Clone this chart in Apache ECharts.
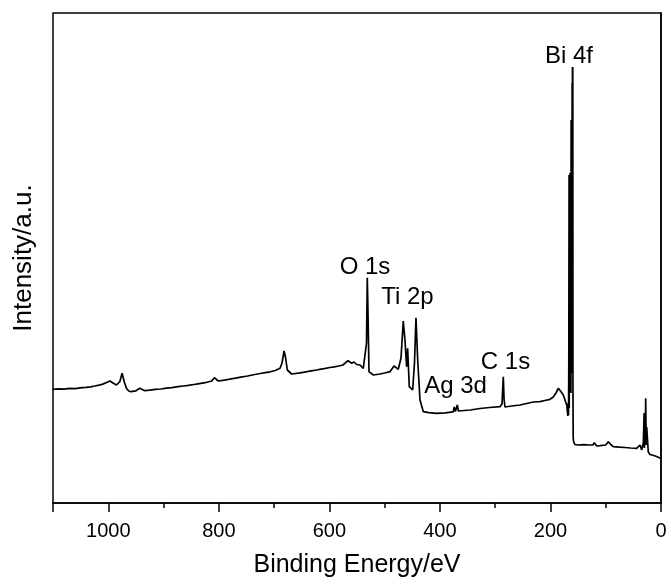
<!DOCTYPE html>
<html>
<head>
<meta charset="utf-8">
<script src="https://cdn.jsdelivr.net/npm/echarts@6/dist/echarts.min.js"></script>
<style>
html,body{margin:0;padding:0;background:#fff;}
#chart{width:671px;height:584px;}
</style>
</head>
<body>
<div id="chart"></div>
<script>
// Binding energy (eV) and intensity (a.u.)
var energy = [1100,1090,1080,1070,1060,1054,1047,1040,1032,1024,1017,1010,1003,997,990,985,979,975,971,967,963,959,950,943,934,925,915,905,895,885,874,864,855,845,835,825,813,808,801,790,780,770,760,748,735,725,716,707,698,689.3,685.7,682,679.4,676.1,668.2,660,653,645,638,630,623,615,607,599,591,583,575.4,566.3,559.6,555.4,550.5,544.6,538.6,535.6,532.8,531.4,530.1,528.3,520.5,508.4,500,490.3,483,475.3,470.4,466.3,463.2,460.2,458.4,455.4,449.3,446,443.3,440.2,436,430,420,405.8,390,380,376,374,372,368.5,366.5,363.7,345,327.5,310,291.3,287.7,285.3,284,282.3,270,255,243,231,219,210,200.8,194.9,190,185.8,181.8,176.8,173.7,170.6,169.5,168.5,167.8,167.3,166.8,166.3,166.0,165.7,165.4,165.1,164.8,164.5,164.2,163.9,163.6,163.3,163.0,162.6,162.3,162.0,161.7,161.4,161.1,160.8,160.5,160.2,159.9,159.6,159.3,158.9,158.3,157.5,156,150,140,130,123,120.7,116.3,110,100,95.3,90,86.3,75,65,55,44,38,35,32,30.5,30,29.3,28.5,27.7,26.8,25.9,23,20,16.8,13,10.9,8,4.9,2,0];
var intensity = [113.7,114.2,113.8,114.6,114.3,114.9,115.3,115.6,116.2,117,117.8,118.9,120.5,122,119.5,118,121.5,129.7,121,114.5,112,111.3,112.2,114.7,112.3,112.8,113.6,114,114.8,115.4,116.3,117,117.6,118.5,119.4,120.3,122,125.3,122,122.9,123.8,124.8,125.9,127,128.5,129.5,130.4,131.2,132.5,134.7,140,152,146,133,129,129.6,130.2,130.9,131.6,132.4,133,133.8,134.6,135.5,136.2,137,138,142.3,139.7,141,138.5,138,134.7,133,160,225.3,190,131.3,128,129,130,131.3,137,133.7,145,182,163,136.3,154.7,116.3,113,140,185.3,143,103,91.3,90.3,89.7,90.2,90.8,91,96,91.5,98,92,91.3,93,94.5,95.5,96.3,99,126.3,104,96,97,98,99.5,101,101.3,102.5,103.7,106,110,114.7,112,108,106,98,92,87,100,88,140,328,95,320,110,326,150,330,120,325,160,320,110,383,130,380,150,383,200,420,250,436,300,436,120,66,62,60,58.5,58,58.3,58,58.2,60.3,57,57.3,58,61.3,58,56.3,55.8,55.5,55,54.7,58,53,60,90,55,88,60,104.7,58,76,51,48.5,47,47.5,48,46.5,45.7,45,44.7];

// Peak labels: text with their data position (eV, a.u.)
var peakNames = ['Bi 4f','O 1s','Ti 2p','Ag 3d','C 1s'];
var peakX = [166.5, 535.5, 458.7, 371.8, 281.3];
var peakY = [447, 236, 206, 117, 141];

var xTicksInterval = 200;
var xMin = 0, xMax = 1100;

var font = 'Liberation Sans, Arial, Helvetica, sans-serif';
var chart = echarts.init(document.getElementById('chart'), null, {renderer:'canvas'});

var lineData = energy.map(function(e,i){ return [e, intensity[i]]; });
var labelData = peakNames.map(function(n,i){ return {value:[peakX[i], peakY[i]], name:n}; });

chart.setOption({
  animation:false,
  backgroundColor:'#fff',
  grid:{left:53, right:10, top:13, bottom:81, show:true, borderColor:'#000', borderWidth:1.5, backgroundColor:'transparent'},
  xAxis:{
    type:'value', inverse:true, min:xMin, max:xMax, interval:xTicksInterval,
    name:'Binding Energy/eV', nameLocation:'middle', nameGap:50,
    nameTextStyle:{fontSize:25, color:'#000', fontFamily:font},
    axisLine:{show:true, onZero:false, lineStyle:{color:'#000', width:1.5}},
    axisTick:{show:true, inside:false, length:9, lineStyle:{color:'#000', width:1.5}},
    minorTick:{show:true, splitNumber:2, length:5, lineStyle:{color:'#000', width:1.5}},
    axisLabel:{fontSize:20, color:'#000', fontFamily:font, margin:18, showMaxLabel:false,
               formatter:function(v){ return v >= xMax ? '' : String(v); }},
    splitLine:{show:false}
  },
  yAxis:{
    type:'value', min:0, max:490,
    name:'Intensity/a.u.', nameLocation:'middle', nameGap:16,
    nameTextStyle:{fontSize:26, color:'#000', fontFamily:font},
    axisLine:{show:true, lineStyle:{color:'#000', width:1.5}},
    axisTick:{show:false}, axisLabel:{show:false}, splitLine:{show:false}
  },
  series:[
    {type:'line', data:lineData, showSymbol:false, symbol:'none',
     lineStyle:{color:'#000', width:1.7}, silent:true},
    {type:'scatter', data:labelData, symbolSize:0, silent:true,
     itemStyle:{color:'#000', opacity:1},
     label:{show:true, position:'inside', formatter:function(p){return p.name;},
            fontSize:24, color:'#000', opacity:1, textBorderWidth:0, fontFamily:font}}
  ]
});
</script>
</body>
</html>
